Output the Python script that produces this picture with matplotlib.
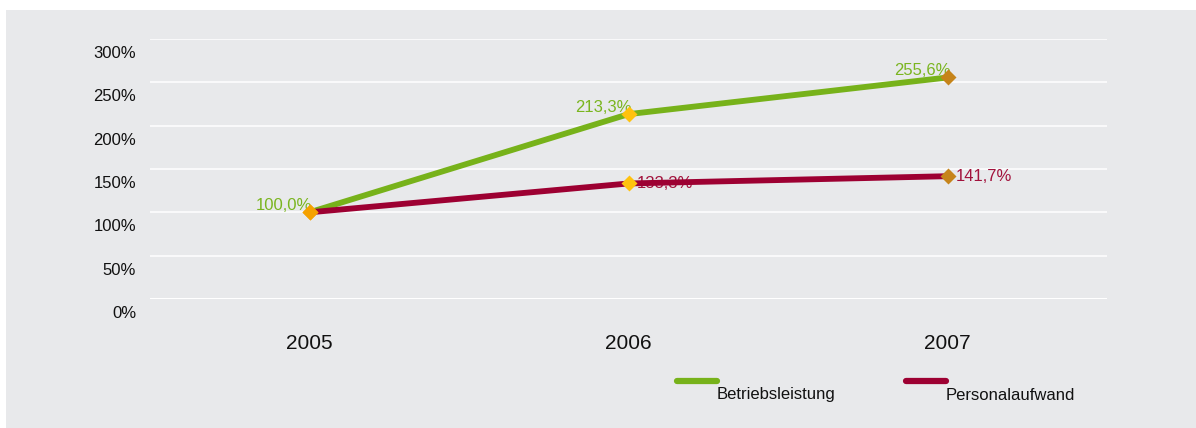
import matplotlib.pyplot as plt
from matplotlib.lines import Line2D
from matplotlib.patches import Rectangle
from matplotlib.transforms import ScaledTranslation

plt.rcParams['font.family'] = ['Liberation Sans', 'DejaVu Sans']

years = ['2005', '2006', '2007']
betriebsleistung = [100.0, 213.3, 255.6]
personalaufwand = [100.0, 133.3, 141.7]
marker_colors = ['#f5a100', '#ffc20e', '#c6841a']
y_ticks = [0, 50, 100, 150, 200, 250, 300]

GREEN = '#77b21a'
RED = '#9d0032'
BG = '#e8e9eb'

W, H = 1196, 428
fig = plt.figure(figsize=(W / 100, H / 100), dpi=100)
fig.patch.set_facecolor('white')
fig.add_artist(Rectangle((6 / W, 0), 1 - 6 / W, 1 - 10 / H,
                         transform=fig.transFigure, facecolor=BG,
                         edgecolor='none', zorder=0))

ax = fig.add_axes([150 / W, (H - 299) / H, 957 / W, 260 / H])
ax.set_facecolor('none')
for s in ax.spines.values():
    s.set_visible(False)

x = range(len(years))
ax.set_xlim(-0.5, len(years) - 0.5)
ax.set_ylim(0, 300)

# white gridlines, the base line a little heavier
for t in y_ticks:
    ax.axhline(t, color='white', lw=2.2 if t == 0 else 1.1, zorder=1)

ax.plot(x, betriebsleistung, color=GREEN, lw=4.2, zorder=4, solid_capstyle='butt')
ax.plot(x, personalaufwand, color=RED, lw=4.2, zorder=4, solid_capstyle='butt')
for i in x:
    for v in (betriebsleistung[i], personalaufwand[i]):
        ax.plot(i, v, marker='D', ms=8.5, color=marker_colors[i],
                mec='none', zorder=6, clip_on=False)

# value labels
for i, v in enumerate(betriebsleistung):
    ax.annotate(f'{v:.1f}%'.replace('.', ','), (i, v), xytext=(2, 5),
                textcoords='offset points', ha='right', va='center',
                color='#7ab51f', fontsize=12, zorder=3)
for i, v in enumerate(personalaufwand):
    if i == 0:
        continue
    ax.annotate(f'{v:.1f}%'.replace('.', ','), (i, v), xytext=(6, 0),
                textcoords='offset points', ha='left', va='center',
                color='#a2123c', fontsize=12, zorder=3)

ax.set_yticks(y_ticks)
ax.set_yticklabels([f'{t}%' for t in y_ticks], fontsize=12, color='#111111')
ax.set_xticks(list(x))
ax.set_xticklabels(years, fontsize=15, color='#111111')
ax.tick_params(axis='y', length=0, pad=10)
ax.tick_params(axis='x', length=0, pad=25)
shift = ScaledTranslation(0, -13 / 100, fig.dpi_scale_trans)
for lbl in ax.get_yticklabels():
    lbl.set_transform(lbl.get_transform() + shift)

# legend below the plot
for x0, x1, col, name in [(677, 717, GREEN, 'Betriebsleistung'),
                          (906, 946, RED, 'Personalaufwand')]:
    fig.add_artist(Line2D([x0 / W, x1 / W], [1 - 380.5 / H] * 2,
                          transform=fig.transFigure, color=col, lw=4.5,
                          solid_capstyle='round'))
    fig.text(x1 / W, 1 - 395 / H, name, fontsize=12, color='#111111',
             ha='left', va='center')

fig.savefig('out.png', dpi=100, facecolor=fig.get_facecolor())
